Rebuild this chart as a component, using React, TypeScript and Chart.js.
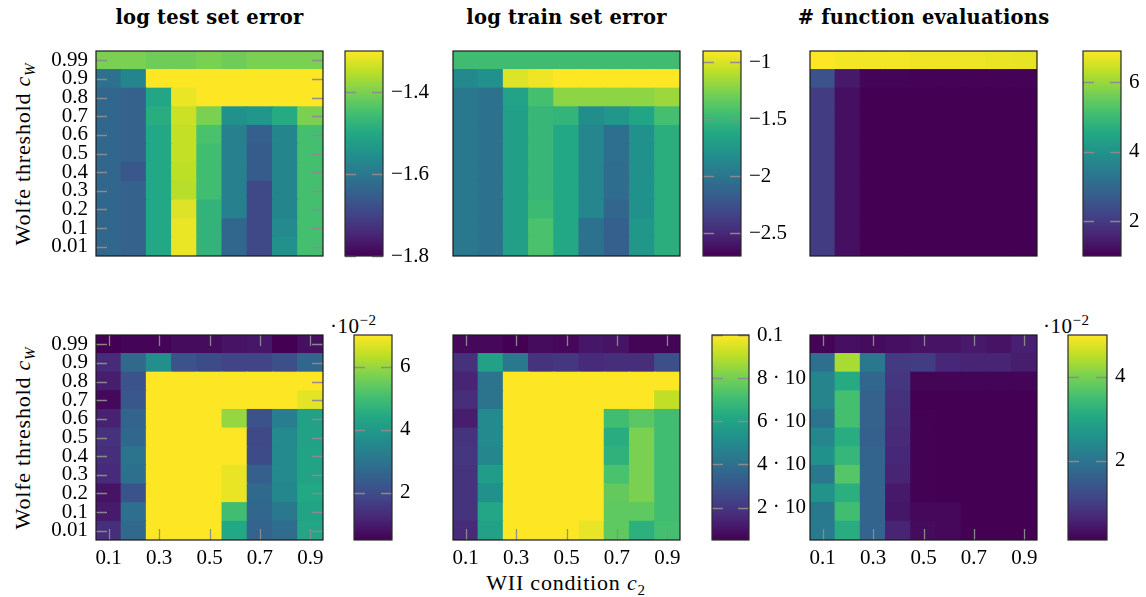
import React, { useEffect, useRef } from "react";
import { Chart, registerables } from "chart.js";

Chart.register(...registerables);

// ---------- categories ----------
const C2 = ["0.1", "0.2", "0.3", "0.4", "0.5", "0.6", "0.7", "0.8", "0.9"];
const CW = ["0.01", "0.1", "0.2", "0.3", "0.4", "0.5", "0.6", "0.7", "0.8", "0.9", "0.99"]; // bottom -> top
const X_TICK_LABELS = ["0.1", "0.3", "0.5", "0.7", "0.9"];

// ---------- values (rows listed top (0.99) -> bottom (0.01), columns c2 = 0.1 .. 0.9) ----------
const TEST_ERR = [
  [-1.40, -1.40, -1.41, -1.41, -1.40, -1.41, -1.40, -1.40, -1.40],
  [-1.615, -1.575, -1.28, -1.28, -1.28, -1.28, -1.28, -1.28, -1.28],
  [-1.635, -1.645, -1.505, -1.315, -1.28, -1.28, -1.28, -1.28, -1.28],
  [-1.635, -1.645, -1.49, -1.34, -1.40, -1.55, -1.54, -1.495, -1.40],
  [-1.635, -1.645, -1.50, -1.345, -1.445, -1.585, -1.65, -1.575, -1.45],
  [-1.635, -1.645, -1.50, -1.345, -1.455, -1.585, -1.655, -1.575, -1.45],
  [-1.635, -1.665, -1.50, -1.35, -1.455, -1.585, -1.655, -1.575, -1.45],
  [-1.635, -1.645, -1.50, -1.355, -1.455, -1.585, -1.69, -1.575, -1.45],
  [-1.635, -1.645, -1.50, -1.325, -1.475, -1.585, -1.69, -1.575, -1.45],
  [-1.635, -1.645, -1.50, -1.315, -1.475, -1.635, -1.69, -1.565, -1.45],
  [-1.635, -1.645, -1.50, -1.315, -1.475, -1.635, -1.69, -1.55, -1.45],
];

const TRAIN_ERR = [
  [-1.46, -1.46, -1.46, -1.46, -1.46, -1.46, -1.46, -1.46, -1.46],
  [-1.854, -1.80, -0.99, -0.936, -0.88, -0.88, -0.88, -0.88, -0.88],
  [-1.98, -2.02, -1.67, -1.44, -1.21, -1.21, -1.21, -1.21, -1.17],
  [-1.98, -2.02, -1.69, -1.51, -1.53, -1.82, -1.76, -1.64, -1.44],
  [-1.98, -2.02, -1.69, -1.51, -1.62, -1.87, -2.05, -1.80, -1.57],
  [-1.98, -2.02, -1.69, -1.51, -1.62, -1.87, -2.05, -1.80, -1.57],
  [-1.98, -2.02, -1.69, -1.51, -1.62, -1.87, -2.06, -1.80, -1.57],
  [-1.98, -2.02, -1.69, -1.51, -1.62, -1.87, -2.06, -1.80, -1.57],
  [-1.98, -2.02, -1.69, -1.48, -1.62, -1.87, -2.11, -1.80, -1.57],
  [-1.98, -2.02, -1.69, -1.42, -1.62, -2.02, -2.16, -1.75, -1.57],
  [-1.98, -2.02, -1.69, -1.42, -1.62, -2.02, -2.16, -1.75, -1.57],
];

const FEVALS = [
  [6.9, 6.8, 6.8, 6.8, 6.78, 6.77, 6.75, 6.72, 6.7],
  [2.48, 1.41, 1.05, 1.05, 1.04, 1.04, 1.03, 1.03, 1.03],
  [2.06, 1.24, 1.0, 1.0, 1.0, 1.0, 1.0, 1.0, 1.0],
  [2.06, 1.24, 1.0, 1.0, 1.0, 1.0, 1.0, 1.0, 1.0],
  [2.06, 1.24, 1.0, 1.0, 1.0, 1.0, 1.0, 1.0, 1.0],
  [2.06, 1.24, 1.0, 1.0, 1.0, 1.0, 1.0, 1.0, 1.0],
  [2.06, 1.24, 1.0, 1.0, 1.0, 1.0, 1.0, 1.0, 1.0],
  [2.06, 1.24, 1.0, 1.0, 1.0, 1.0, 1.0, 1.0, 1.0],
  [2.06, 1.24, 1.0, 1.0, 1.0, 1.0, 1.0, 1.0, 1.0],
  [2.06, 1.24, 1.0, 1.0, 1.0, 1.0, 1.0, 1.0, 1.0],
  [2.06, 1.24, 1.0, 1.0, 1.0, 1.0, 1.0, 1.0, 1.0],
];

// spread of the test error, in units of 10^-2
const TEST_SPREAD = [
  [0.5, 0.57, 0.57, 0.7, 0.7, 0.83, 0.9, 0.5, 0.76],
  [1.28, 2.71, 3.69, 2.13, 2.0, 1.8, 1.8, 2.06, 2.65],
  [1.02, 2.13, 7.2, 7.2, 7.2, 7.2, 7.2, 7.2, 7.2],
  [0.63, 2.26, 7.2, 7.2, 7.2, 7.2, 7.2, 7.2, 6.74],
  [1.09, 2.58, 7.2, 7.2, 7.2, 5.96, 2.13, 3.23, 4.2],
  [1.41, 2.65, 7.2, 7.2, 7.2, 7.2, 1.93, 3.56, 4.2],
  [1.35, 2.97, 7.2, 7.2, 7.2, 7.2, 2.0, 3.56, 4.27],
  [1.28, 2.9, 7.2, 7.2, 7.2, 6.8, 2.45, 3.56, 4.27],
  [0.83, 2.19, 7.2, 7.2, 7.2, 6.8, 2.7, 3.5, 4.4],
  [0.96, 2.84, 7.2, 7.2, 7.2, 4.99, 2.65, 3.1, 4.27],
  [1.35, 2.7, 7.2, 7.2, 7.2, 4.4, 2.58, 2.78, 4.33],
];

// spread of the train error
const TRAIN_SPREAD = [
  [0.0069, 0.0069, 0.005, 0.0079, 0.0069, 0.0107, 0.0098, 0.006, 0.006],
  [0.0183, 0.059, 0.043, 0.019, 0.020, 0.0164, 0.0174, 0.0174, 0.0278],
  [0.0145, 0.041, 0.105, 0.105, 0.105, 0.105, 0.105, 0.105, 0.105],
  [0.0174, 0.041, 0.105, 0.105, 0.105, 0.105, 0.105, 0.105, 0.091],
  [0.0126, 0.0497, 0.105, 0.105, 0.105, 0.105, 0.0706, 0.0753, 0.0706],
  [0.019, 0.0497, 0.105, 0.105, 0.105, 0.105, 0.064, 0.081, 0.0706],
  [0.0202, 0.0487, 0.105, 0.105, 0.105, 0.105, 0.0658, 0.081, 0.0706],
  [0.019, 0.0572, 0.105, 0.105, 0.105, 0.105, 0.0724, 0.081, 0.0706],
  [0.019, 0.0525, 0.105, 0.105, 0.105, 0.105, 0.077, 0.081, 0.0706],
  [0.019, 0.061, 0.105, 0.105, 0.105, 0.105, 0.076, 0.076, 0.0706],
  [0.0164, 0.059, 0.105, 0.105, 0.105, 0.097, 0.076, 0.065, 0.0715],
];

// spread of the number of function evaluations, in units of 10^-2
const FEVAL_SPREAD = [
  [0.15, 0.3, 0.25, 0.3, 0.35, 0.35, 0.44, 0.35, 0.54],
  [1.86, 4.36, 2.06, 0.93, 0.98, 0.64, 0.59, 0.59, 0.49],
  [2.3, 3.09, 1.72, 0.88, 0.15, 0.15, 0.14, 0.14, 0.14],
  [2.3, 3.53, 1.62, 0.79, 0.1, 0.1, 0.1, 0.1, 0.1],
  [1.96, 3.53, 1.62, 0.74, 0.12, 0.1, 0.1, 0.1, 0.1],
  [2.35, 3.14, 1.57, 0.69, 0.12, 0.1, 0.1, 0.1, 0.1],
  [2.55, 3.33, 1.67, 0.64, 0.12, 0.1, 0.1, 0.1, 0.1],
  [2.06, 3.68, 1.67, 0.59, 0.12, 0.1, 0.1, 0.1, 0.1],
  [2.6, 3.19, 1.67, 0.44, 0.12, 0.1, 0.1, 0.1, 0.1],
  [2.06, 3.48, 1.67, 0.39, 0.2, 0.2, 0.1, 0.1, 0.1],
  [2.1, 3.14, 1.67, 0.59, 0.25, 0.2, 0.1, 0.1, 0.1],
];

// ---------- colour bar ranges and ticks ----------
const TEST_ERR_RANGE = [-1.8, -1.3];
const TEST_ERR_TICKS = [-1.8, -1.6, -1.4];
const TEST_ERR_TICK_LABELS = ["\u22121.8", "\u22121.6", "\u22121.4"];

const TRAIN_ERR_RANGE = [-2.7, -0.9];
const TRAIN_ERR_TICKS = [-2.5, -2, -1.5, -1];
const TRAIN_ERR_TICK_LABELS = ["\u22122.5", "\u22122", "\u22121.5", "\u22121"];

const FEVALS_RANGE = [1, 6.9];
const FEVALS_TICKS = [2, 4, 6];
const FEVALS_TICK_LABELS = ["2", "4", "6"];

const TEST_SPREAD_RANGE = [0.5, 7.0];
const TEST_SPREAD_TICKS = [2, 4, 6];
const TEST_SPREAD_TICK_LABELS = ["2", "4", "6"];

const TRAIN_SPREAD_RANGE = [0.005, 0.1];
const TRAIN_SPREAD_TICKS = [0.02, 0.04, 0.06, 0.08, 0.1];
const TRAIN_SPREAD_TICK_LABELS = ["2 \u00b7 10\u207b\u00b2", "4 \u00b7 10\u207b\u00b2", "6 \u00b7 10\u207b\u00b2", "8 \u00b7 10\u207b\u00b2", "0.1"];

const FEVAL_SPREAD_RANGE = [0.1, 5.0];
const FEVAL_SPREAD_TICKS = [2, 4];
const FEVAL_SPREAD_TICK_LABELS = ["2", "4"];

const TITLES = ["log test set error", "log train set error", "# function evaluations"];

// ---------- style ----------
const SERIF = "'Liberation Serif', 'DejaVu Serif', serif";
const TITLE_FONT = "'DejaVu Serif', serif";
const TICK_FONT = { family: SERIF, size: 21, lineHeight: 1.1 };
const VIRIDIS = [
  [68, 1, 84], [72, 36, 117], [65, 68, 135], [53, 95, 141], [42, 120, 142],
  [33, 145, 140], [34, 168, 132], [68, 191, 112], [122, 209, 81], [189, 223, 38], [253, 231, 37],
];

function viridis(t: number): string {
  const c = Math.max(0, Math.min(1, t)) * (VIRIDIS.length - 1);
  const i = Math.min(VIRIDIS.length - 2, Math.floor(c));
  const f = c - i;
  const a = VIRIDIS[i], b = VIRIDIS[i + 1];
  const m = (k: number) => Math.round(a[k] + (b[k] - a[k]) * f);
  return `rgb(${m(0)},${m(1)},${m(2)})`;
}

function zeroPad(s: any) {
  s.paddingTop = 0;
  s.paddingBottom = 0;
  s.paddingLeft = 0;
  s.paddingRight = 0;
}

const heatFrame = {
  id: "heatFrame",
  afterDatasetsDraw(chart: any, _args: any, opts: any) {
    const { ctx, chartArea: a } = chart;
    ctx.save();
    ctx.strokeStyle = "rgba(140,140,140,0.95)";
    ctx.lineWidth = 1.3;
    const L = 11;
    if (opts.yMarks) {
      CW.forEach((_, i) => {
        const y = Math.round(chart.scales.y.getPixelForValue(i + 0.5)) + 0.5;
        ctx.beginPath();
        ctx.moveTo(a.left, y); ctx.lineTo(a.left + L, y);
        ctx.moveTo(a.right - L, y); ctx.lineTo(a.right, y);
        ctx.stroke();
      });
    }
    if (opts.xMarks) {
      C2.forEach((lab, i) => {
        if (!X_TICK_LABELS.includes(lab)) return;
        const x = Math.round(chart.scales.x.getPixelForValue(i)) + 0.5;
        ctx.beginPath();
        ctx.moveTo(x, a.top); ctx.lineTo(x, a.top + L);
        ctx.moveTo(x, a.bottom - L); ctx.lineTo(x, a.bottom);
        ctx.stroke();
      });
    }
    ctx.strokeStyle = "#1a1a1a";
    ctx.lineWidth = 1.2;
    ctx.strokeRect(a.left, a.top, a.right - a.left, a.bottom - a.top);
    ctx.restore();
  },
};

const cbarFill = {
  id: "cbarFill",
  beforeDatasetsDraw(chart: any, _args: any, opts: any) {
    const { ctx, chartArea: a } = chart;
    const s = chart.scales.y;
    const [lo, hi] = opts.range;
    const yBot = s.getPixelForValue(lo);
    const yTop = s.getPixelForValue(hi);
    ctx.save();
    const g = ctx.createLinearGradient(0, yBot, 0, yTop);
    VIRIDIS.forEach((c, i) => g.addColorStop(i / (VIRIDIS.length - 1), `rgb(${c[0]},${c[1]},${c[2]})`));
    ctx.fillStyle = g;
    ctx.fillRect(a.left, yTop, a.right - a.left, yBot - yTop);
    ctx.strokeStyle = "rgba(140,140,140,0.95)";
    ctx.lineWidth = 1.3;
    const L = 11;
    opts.ticks.forEach((v: number) => {
      const y = Math.round(s.getPixelForValue(v)) + 0.5;
      ctx.beginPath();
      ctx.moveTo(a.left, y); ctx.lineTo(a.left + L, y);
      ctx.moveTo(a.right - L, y); ctx.lineTo(a.right, y);
      ctx.stroke();
    });
    ctx.strokeStyle = "#2a2a2a";
    ctx.lineWidth = 1.2;
    ctx.strokeRect(a.left, a.top, a.right - a.left, a.bottom - a.top);
    ctx.restore();
  },
};

type Box = { x: number; y: number; w: number; h: number };

function Heatmap(props: {
  box: Box; values: number[][]; range: number[];
  showY?: boolean; showX?: boolean; yMarks?: boolean; xMarks?: boolean;
}) {
  const ref = useRef<HTMLCanvasElement>(null);
  const { box, values, range, showY = false, showX = false, yMarks = false, xMarks = false } = props;
  const padL = showY ? 80 : 12;
  const padB = showX ? 36 : 12;
  const padT = 12, padR = 16;
  const W = box.w + padL + padR;
  const H = box.h + padT + padB;
  useEffect(() => {
    const [lo, hi] = range;
    const bottomUp = [...values].reverse();
    const chart = new Chart(ref.current as HTMLCanvasElement, {
      type: "bar",
      data: {
        labels: C2,
        datasets: bottomUp.map((row, r) => ({
          label: CW[r],
          data: row.map(() => 1),
          backgroundColor: row.map((v) => viridis((v - lo) / (hi - lo))),
          borderWidth: 0,
          barPercentage: 1,
          categoryPercentage: 1,
          inflateAmount: 0.6,
        })),
      } as any,
      plugins: [heatFrame],
      options: {
        responsive: false,
        maintainAspectRatio: false,
        animation: false,
        devicePixelRatio: 1,
        layout: {
          padding: { left: showY ? 0 : padL, right: padR, top: padT, bottom: showX ? 0 : padB },
        },
        plugins: {
          legend: { display: false },
          tooltip: { enabled: false },
          heatFrame: { yMarks, xMarks },
        } as any,
        scales: {
          x: {
            type: "category",
            stacked: true,
            offset: true,
            display: showX,
            grid: { display: false, drawTicks: false },
            border: { display: false },
            ticks: {
              autoSkip: false,
              maxRotation: 0,
              padding: 7,
              color: "#000",
              font: TICK_FONT,
              callback: (_v: any, i: number) => (X_TICK_LABELS.includes(C2[i]) ? C2[i] : ""),
            },
            afterFit: (s: any) => {
              if (showX) s.height = padB;
              zeroPad(s);
            },
          },
          y: {
            type: "linear",
            stacked: true,
            min: 0,
            max: CW.length,
            display: showY,
            grid: { display: false, drawTicks: false },
            border: { display: false },
            afterBuildTicks: (s: any) => { s.ticks = CW.map((_, i) => ({ value: i + 0.5 })); },
            ticks: {
              autoSkip: false,
              padding: 8,
              color: "#000",
              font: TICK_FONT,
              callback: (v: any) => CW[Math.floor(Number(v))],
            },
            afterFit: (s: any) => {
              if (showY) s.width = padL;
              zeroPad(s);
            },
          },
        } as any,
      },
    });
    return () => chart.destroy();
  }, []);
  return (
    <canvas
      ref={ref}
      width={W}
      height={H}
      style={{ position: "absolute", left: box.x - padL, top: box.y - padT, width: W, height: H }}
    />
  );
}

function Colorbar(props: { box: Box; range: number[]; ticks: number[]; labels: string[]; labelW?: number }) {
  const ref = useRef<HTMLCanvasElement>(null);
  const { box, range, ticks, labels, labelW = 70 } = props;
  const padL = 4, padT = 14, padB = 14;
  const W = box.w + padL + labelW;
  const H = box.h + padT + padB;
  useEffect(() => {
    const chart = new Chart(ref.current as HTMLCanvasElement, {
      type: "bar",
      data: { labels: [""], datasets: [] },
      plugins: [cbarFill],
      options: {
        responsive: false,
        maintainAspectRatio: false,
        animation: false,
        devicePixelRatio: 1,
        layout: { padding: { left: padL, right: 0, top: padT, bottom: padB } },
        plugins: {
          legend: { display: false },
          tooltip: { enabled: false },
          cbarFill: { range, ticks },
        } as any,
        scales: {
          x: { display: false, afterFit: (s: any) => zeroPad(s) },
          y: {
            type: "linear",
            position: "right",
            min: range[0],
            max: range[1],
            grid: { display: false, drawTicks: false },
            border: { display: false },
            afterBuildTicks: (s: any) => { s.ticks = ticks.map((v) => ({ value: v })); },
            ticks: {
              autoSkip: false,
              padding: 8,
              color: "#000",
              font: TICK_FONT,
              callback: (_v: any, i: number) => labels[i],
            },
            afterFit: (s: any) => {
              s.width = labelW;
              zeroPad(s);
            },
          },
        } as any,
      },
    });
    return () => chart.destroy();
  }, []);
  return (
    <canvas
      ref={ref}
      width={W}
      height={H}
      style={{ position: "absolute", left: box.x - padL, top: box.y - padT, width: W, height: H }}
    />
  );
}

const textBase: React.CSSProperties = {
  position: "absolute",
  whiteSpace: "nowrap",
  color: "#000",
  fontFamily: SERIF,
  fontSize: 22,
  letterSpacing: 0.8,
  lineHeight: 1,
};

export default function App() {
  const topY = 51, botY = 335, hh = 205;
  const cols = [96, 453, 810];
  const hw = 227;
  return (
    <div style={{ position: "absolute", left: 0, top: 0, width: 1146, height: 597, background: "#fff", overflow: "hidden" }}>
      {TITLES.map((t, i) => (
        <div
          key={t}
          style={{
            ...textBase,
            fontFamily: TITLE_FONT,
            fontWeight: "bold",
            fontSize: 19.5,
            letterSpacing: 0.2,
            left: cols[i] + hw / 2,
            top: 18,
            transform: "translate(-50%, -50%)",
          }}
        >
          {t}
        </div>
      ))}
      {[topY, botY].map((y) => (
        <div
          key={y}
          style={{ ...textBase, left: 25, top: y + hh / 2, transform: "translate(-50%, -50%) rotate(-90deg)" }}
        >
          Wolfe threshold <i>c</i>
          <sub style={{ fontSize: 15 }}><i>W</i></sub>
        </div>
      ))}
      <div style={{ ...textBase, left: 566, top: 585, transform: "translate(-50%, -50%)" }}>
        WII condition <i>c</i>
        <sub style={{ fontSize: 15 }}>2</sub>
      </div>
      <div style={{ ...textBase, fontSize: 21, letterSpacing: 0.5, left: 330, top: 313 }}>
        ·10<sup style={{ fontSize: 15 }}>−2</sup>
      </div>
      <div style={{ ...textBase, fontSize: 21, letterSpacing: 0.5, left: 1043, top: 313 }}>
        ·10<sup style={{ fontSize: 15 }}>−2</sup>
      </div>

      <Colorbar box={{ x: 345, y: topY, w: 38, h: hh }} range={TEST_ERR_RANGE} ticks={TEST_ERR_TICKS} labels={TEST_ERR_TICK_LABELS} />
      <Colorbar box={{ x: 703, y: topY, w: 38, h: hh }} range={TRAIN_ERR_RANGE} ticks={TRAIN_ERR_TICKS} labels={TRAIN_ERR_TICK_LABELS} />
      <Colorbar box={{ x: 1083, y: topY, w: 38, h: hh }} range={FEVALS_RANGE} ticks={FEVALS_TICKS} labels={FEVALS_TICK_LABELS} labelW={50} />
      <Colorbar box={{ x: 354, y: botY, w: 38, h: hh }} range={TEST_SPREAD_RANGE} ticks={TEST_SPREAD_TICKS} labels={TEST_SPREAD_TICK_LABELS} />
      <Colorbar box={{ x: 712, y: botY, w: 37, h: hh }} range={TRAIN_SPREAD_RANGE} ticks={TRAIN_SPREAD_TICKS} labels={TRAIN_SPREAD_TICK_LABELS} labelW={57} />
      <Colorbar box={{ x: 1068, y: botY, w: 39, h: hh }} range={FEVAL_SPREAD_RANGE} ticks={FEVAL_SPREAD_TICKS} labels={FEVAL_SPREAD_TICK_LABELS} labelW={50} />

      <Heatmap box={{ x: cols[0], y: topY, w: hw, h: hh }} values={TEST_ERR} range={TEST_ERR_RANGE} showY yMarks />
      <Heatmap box={{ x: cols[1], y: topY, w: hw, h: hh }} values={TRAIN_ERR} range={TRAIN_ERR_RANGE} />
      <Heatmap box={{ x: cols[2], y: topY, w: hw, h: hh }} values={FEVALS} range={FEVALS_RANGE} />
      <Heatmap box={{ x: cols[0], y: botY, w: hw, h: hh }} values={TEST_SPREAD} range={TEST_SPREAD_RANGE} showY showX yMarks xMarks />
      <Heatmap box={{ x: cols[1], y: botY, w: hw, h: hh }} values={TRAIN_SPREAD} range={TRAIN_SPREAD_RANGE} showX xMarks />
      <Heatmap box={{ x: cols[2], y: botY, w: hw, h: hh }} values={FEVAL_SPREAD} range={FEVAL_SPREAD_RANGE} showX xMarks />
    </div>
  );
}
